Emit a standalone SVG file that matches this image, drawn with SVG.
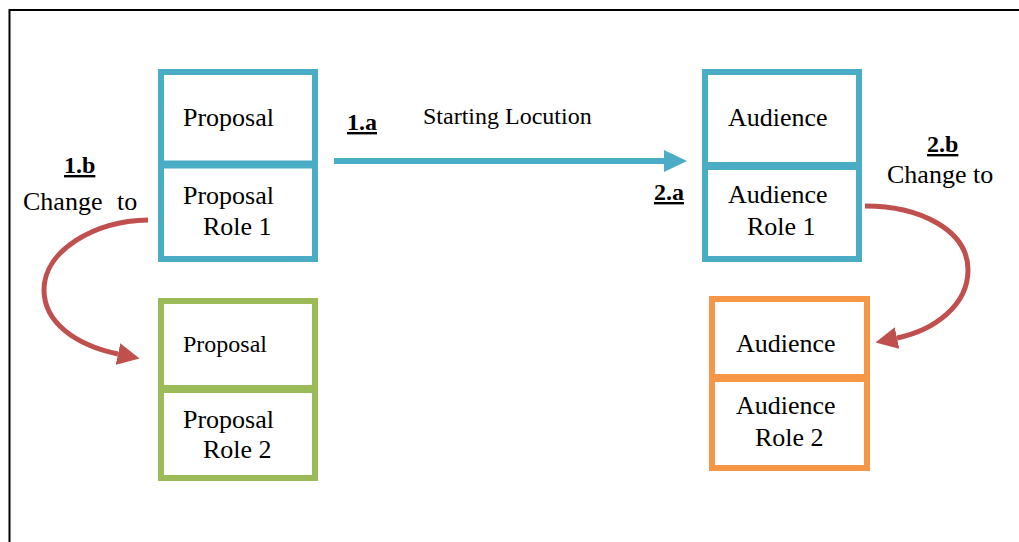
<svg xmlns="http://www.w3.org/2000/svg" width="1019" height="542" viewBox="0 0 1019 542">
  <style>
    text { font-family: 'Liberation Serif', serif; fill: #000; }
    .t { font-size: 26px; }
    .s { font-size: 24px; }
    .lbl { font-size: 24px; font-weight: bold; text-decoration: underline; }
    .blue { fill: none; stroke: #4BACC6; stroke-width: 6; }
    .green { fill: none; stroke: #9BBB59; stroke-width: 6; }
    .orange { fill: none; stroke: #F79646; stroke-width: 6; }
    .div-blue { stroke: #4BACC6; stroke-width: 8; }
    .div-green { stroke: #9BBB59; stroke-width: 8; }
    .div-orange { stroke: #F79646; stroke-width: 8; }
    .red { fill: none; stroke: #C0504D; stroke-width: 5; }
  </style>
  <defs>
    <marker id="arrBlue" markerUnits="userSpaceOnUse" markerWidth="23" markerHeight="22" refX="0" refY="11" orient="auto">
      <path d="M0,0 L23,11 L0,22 z" fill="#4BACC6"/>
    </marker>
    <marker id="arrRed" markerUnits="userSpaceOnUse" markerWidth="22" markerHeight="22" refX="0" refY="11" orient="auto">
      <path d="M0,0 L22,11 L0,22 z" fill="#C0504D"/>
    </marker>
  </defs>

  <rect x="9.5" y="10" width="1020" height="545" fill="none" stroke="#000" stroke-width="2"/>

  <g id="proposal-role1">
    <rect class="blue" x="161" y="72" width="154" height="187"/>
    <line class="div-blue" x1="158" y1="164.5" x2="318" y2="164.5"/>
    <text class="t" x="183" y="126">Proposal</text>
    <text class="t" x="183" y="204">Proposal</text>
    <text class="t" x="203" y="235">Role 1</text>
  </g>

  <g id="proposal-role2">
    <rect class="green" x="161" y="301" width="154" height="177"/>
    <line class="div-green" x1="158" y1="389" x2="318" y2="389"/>
    <text class="s" x="183" y="352">Proposal</text>
    <text class="t" x="183" y="428">Proposal</text>
    <text class="t" x="203" y="458">Role 2</text>
  </g>

  <g id="audience-role1">
    <rect class="blue" x="705" y="72" width="154" height="187"/>
    <line class="div-blue" x1="702" y1="166" x2="862" y2="166"/>
    <text class="t" x="728" y="126">Audience</text>
    <text class="t" x="728" y="203">Audience</text>
    <text class="t" x="747" y="235">Role 1</text>
  </g>

  <g id="audience-role2">
    <rect class="orange" x="712" y="299" width="155" height="169"/>
    <line class="div-orange" x1="709" y1="378" x2="870" y2="378"/>
    <text class="t" x="736" y="352">Audience</text>
    <text class="t" x="736" y="414">Audience</text>
    <text class="t" x="755" y="446">Role 2</text>
  </g>

  <g id="connectors">
    <line x1="334" y1="161" x2="664" y2="161" stroke="#4BACC6" stroke-width="6" marker-end="url(#arrBlue)"/>
    <path class="red" d="M148,220 C95,221 44,250 44,290 C44,322 75,345 118,354" marker-end="url(#arrRed)"/>
    <path class="red" d="M865,206 C920,206 968,230 968,270 C968,305 935,330 897,338" marker-end="url(#arrRed)"/>
  </g>

  <g id="labels">
    <text class="lbl" x="347" y="130">1.a</text>
    <text class="s" x="423" y="124">Starting Locution</text>
    <text class="lbl" x="64" y="173">1.b</text>
    <text class="t" x="23" y="210" word-spacing="8">Change to</text>
    <text class="lbl" x="654" y="200">2.a</text>
    <text class="lbl" x="927" y="152">2.b</text>
    <text class="t" x="887" y="183">Change to</text>
  </g>
</svg>
